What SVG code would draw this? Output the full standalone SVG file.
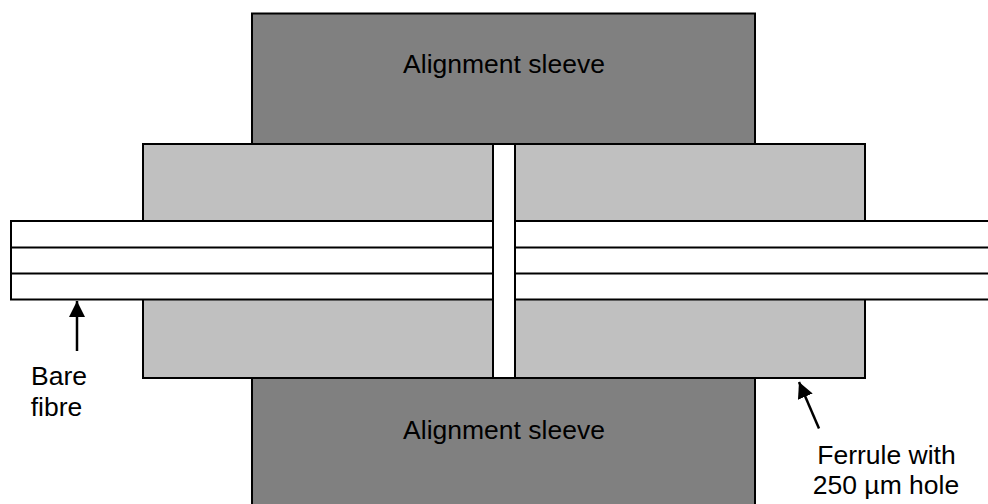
<svg xmlns="http://www.w3.org/2000/svg" width="988" height="504" viewBox="0 0 988 504">
<defs>
<style>
.o{stroke:#000;stroke-width:2}
.sleeve{fill:#808080}
.ferrule{fill:#c0c0c0}
.w{fill:#fff}
.l{stroke:#000;stroke-width:2;fill:none}
text{font-family:"Liberation Sans",Arial,sans-serif;font-size:26.500px;fill:#000;text-anchor:middle}
</style>
<marker id="arrow" markerUnits="userSpaceOnUse" markerWidth="16" markerHeight="16" refX="16" refY="8" orient="auto"><path d="M0,0 L16,8 L0,16 Z" fill="#000"/></marker>
</defs>
<rect width="988" height="504" fill="#fff"/>
<g id="sleeve-top"><rect class="o sleeve" x="252" y="13.500" width="503" height="130.500"/><text x="504" y="73">Alignment sleeve</text></g>
<g id="sleeve-bottom"><rect class="o sleeve" x="252" y="378" width="503" height="130"/><text x="504" y="439">Alignment sleeve</text></g>
<g id="ferrule-left"><rect class="o ferrule" x="143" y="144" width="350" height="234"/></g>
<g id="ferrule-right"><rect class="o ferrule" x="515" y="144" width="350" height="234"/></g>
<g id="fibre-left"><rect class="o w" x="11" y="221" width="482" height="78.500"/><path class="l" d="M11 247.500H493M11 273.500H493"/></g>
<g id="fibre-right"><path class="w" d="M515 221H988V299.500H515Z"/><path class="l" d="M988 221H515V299.500H988M515 247.500H988M515 273.500H988"/></g>
<g id="connectors">
<line x1="77" y1="351" x2="77" y2="301" stroke="#000" stroke-width="2.500" marker-end="url(#arrow)"/>
<line x1="819" y1="428.500" x2="799" y2="382" stroke="#000" stroke-width="2.500" marker-end="url(#arrow)"/>
</g>
<g id="label-bare"><text x="59" y="385">Bare</text><text x="56.500" y="416">fibre</text></g>
<g id="label-ferrule"><text x="886.500" y="464">Ferrule with</text><text x="886" y="494">250 µm hole</text></g>
</svg>
